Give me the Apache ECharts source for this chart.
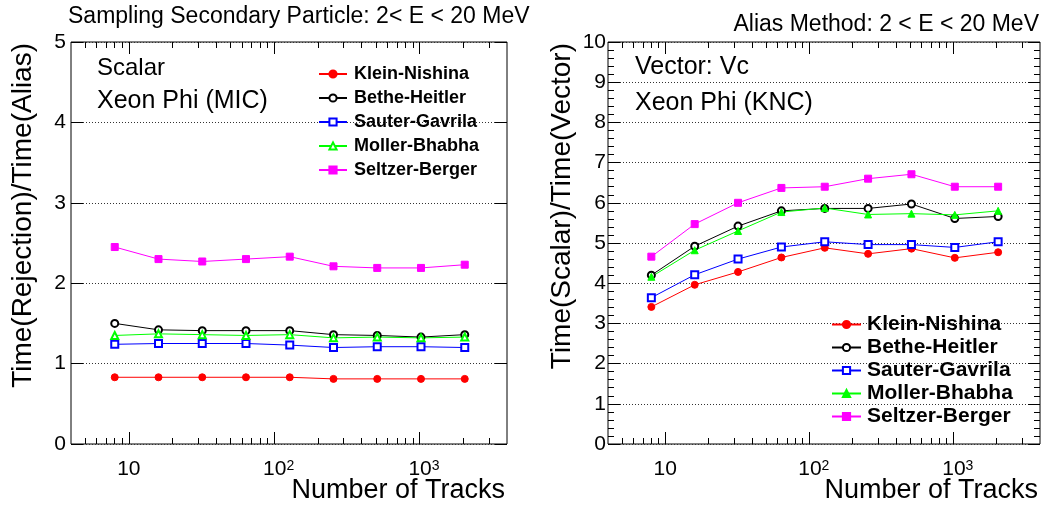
<!DOCTYPE html>
<html>
<head>
<meta charset="utf-8">
<script src="https://cdn.jsdelivr.net/npm/echarts@6/dist/echarts.min.js"></script>
<style>
  html, body { margin: 0; padding: 0; background: #fff; }
  #chart-container { width: 1047px; height: 509px; }
</style>
</head>
<body>
<div id="chart-container"></div>
<script>
var dom = document.getElementById('chart-container');
var myChart = echarts.init(dom, null, { renderer: 'canvas' });

// number of tracks (x)
var tracks = [8, 16, 32, 64, 128, 256, 512, 1024, 2048];
var seriesNames = ['Klein-Nishina', 'Bethe-Heitler', 'Sauter-Gavrila', 'Moller-Bhabha', 'Seltzer-Berger'];

// left: Time(Rejection)/Time(Alias), scalar, Xeon Phi (MIC)
var knLeft = [0.83, 0.83, 0.83, 0.83, 0.83, 0.81, 0.81, 0.81, 0.81];
var bhLeft = [1.50, 1.42, 1.41, 1.41, 1.41, 1.36, 1.35, 1.33, 1.36];
var sgLeft = [1.24, 1.25, 1.25, 1.25, 1.23, 1.20, 1.21, 1.21, 1.20];
var mbLeft = [1.35, 1.37, 1.36, 1.35, 1.36, 1.32, 1.33, 1.32, 1.33];
var sbLeft = [2.45, 2.30, 2.27, 2.30, 2.33, 2.21, 2.19, 2.19, 2.23];

// right: Time(Scalar)/Time(Vector), Vc, Xeon Phi (KNC)
var knRight = [3.41, 3.96, 4.28, 4.64, 4.88, 4.73, 4.86, 4.63, 4.77];
var bhRight = [4.20, 4.92, 5.42, 5.80, 5.86, 5.86, 5.97, 5.61, 5.66];
var sgRight = [3.64, 4.21, 4.60, 4.90, 5.03, 4.96, 4.96, 4.89, 5.03];
var mbRight = [4.16, 4.82, 5.30, 5.77, 5.87, 5.71, 5.73, 5.70, 5.80];
var sbRight = [4.66, 5.47, 6.00, 6.37, 6.40, 6.60, 6.71, 6.40, 6.40];

// log x axis ticks
var majorTicks = [10, 100, 1000];
var minorTicks = [5, 6, 7, 8, 9, 20, 30, 40, 50, 60, 70, 80, 90,
                  200, 300, 400, 500, 600, 700, 800, 900, 2000, 3000];
var xMin = 4, xMax = 4000;

var FONT = '"Liberation Sans", Arial, Helvetica, sans-serif';
var colors = ['#ff0000', '#000000', '#0000ff', '#00ff00', '#ff00ff'];
var symbolsLeft = ['circle', 'emptyCircle', 'emptyRect', 'emptyTriangle', 'rect'];
var symbolsRight = ['circle', 'emptyCircle', 'emptyRect', 'triangle', 'rect'];

// right panel series get their own names so its legend shows its own markers
var VC = ' (Vc)';
var namesLeft = seriesNames;
var namesRight = seriesNames.map(function (n) { return n + VC; });

function lg(v) { return Math.log10(v); }

function xLabel(v) {
  var e = Math.round(v);
  if (e === 1) return '{b|10}';
  return '{p|10}{s|' + e + '}';
}

function makeXAxes(gridIndex) {
  var common = {
    gridIndex: gridIndex, type: 'value', min: lg(xMin), max: lg(xMax),
    axisLine: { show: false }, splitLine: { show: false }
  };
  return [
    Object.assign({}, common, {
      position: 'bottom',
      name: 'Number of Tracks',
      nameLocation: 'end',
      nameGap: 0,
      nameMoveOverlap: false,
      nameTextStyle: { fontFamily: FONT, fontSize: 27, color: '#000', align: 'right',
                       verticalAlign: 'top', padding: [33, 2, 0, 0] },
      axisTick: { inside: true, length: 12, customValues: majorTicks.map(lg), lineStyle: { color: '#000' } },
      axisLabel: {
        customValues: majorTicks.map(lg), margin: 15, formatter: xLabel,
        color: '#000', fontFamily: FONT, fontSize: 21,
        rich: {
          b: { fontFamily: FONT, fontSize: 21, color: '#000' },
          p: { fontFamily: FONT, fontSize: 21, color: '#000', padding: [0, 0, 0, 9] },
          s: { fontFamily: FONT, fontSize: 14, color: '#000', verticalAlign: 'top', padding: [0, 0, 6, 0] }
        }
      }
    }),
    Object.assign({}, common, {
      position: 'bottom',
      axisTick: { inside: true, length: 6, customValues: minorTicks.map(lg), lineStyle: { color: '#000' } },
      axisLabel: { show: false }
    }),
    Object.assign({}, common, {
      position: 'top',
      axisTick: { inside: true, length: 12, customValues: majorTicks.map(lg), lineStyle: { color: '#000' } },
      axisLabel: { show: false }
    }),
    Object.assign({}, common, {
      position: 'top',
      axisTick: { inside: true, length: 6, customValues: minorTicks.map(lg), lineStyle: { color: '#000' } },
      axisLabel: { show: false }
    })
  ];
}

function makeYAxes(gridIndex, max, minor, title, namePad, labelMargin) {
  var tickStyle = { color: '#000' };
  return [
    {
      gridIndex: gridIndex, type: 'value', position: 'left', min: 0, max: max, interval: 1,
      name: title, nameLocation: 'end', nameRotate: 90, nameGap: 0, nameMoveOverlap: false,
      nameTextStyle: { fontFamily: FONT, fontSize: 28, color: '#000', align: 'right',
                       verticalAlign: 'bottom', padding: [0, 1, namePad, 0] },
      axisLine: { show: false },
      axisTick: { inside: true, length: 12, lineStyle: tickStyle },
      minorTick: { show: minor, splitNumber: 5, length: 6, lineStyle: tickStyle },
      axisLabel: { margin: labelMargin, color: '#000', fontFamily: FONT, fontSize: 21 },
      splitLine: { show: true, lineStyle: { color: '#333', type: [1, 2], width: 1 } }
    },
    {
      gridIndex: gridIndex, type: 'value', position: 'right', min: 0, max: max, interval: 1,
      axisLine: { show: false },
      axisTick: { inside: true, length: 12, lineStyle: tickStyle },
      minorTick: { show: minor, splitNumber: 5, length: 6, lineStyle: tickStyle },
      axisLabel: { show: false },
      splitLine: { show: false }
    }
  ];
}

function makeSeries(values, names, symbols, xAxisIndex, yAxisIndex) {
  return values.map(function (vals, i) {
    return {
      name: names[i],
      type: 'line',
      xAxisIndex: xAxisIndex,
      yAxisIndex: yAxisIndex,
      data: tracks.map(function (t, j) { return [lg(t), vals[j]]; }),
      symbol: symbols[i],
      symbolSize: 7,
      showAllSymbol: true,
      color: colors[i],
      lineStyle: { color: colors[i], width: 1 },
      itemStyle: { color: colors[i], borderColor: colors[i], borderWidth: 1 },
      emphasis: { disabled: true },
      animation: false
    };
  });
}

var option = {
  backgroundColor: '#fff',
  animation: false,
  title: [
    { text: 'Sampling Secondary Particle: 2< E < 20 MeV', left: 68, top: 5, padding: 0,
      textStyle: { fontFamily: FONT, fontSize: 23, fontWeight: 'normal', color: '#000' } },
    { text: 'Alias Method: 2 < E < 20 MeV', right: 8, top: 13, padding: 0,
      textStyle: { fontFamily: FONT, fontSize: 23, fontWeight: 'normal', color: '#000' } }
  ],
  grid: [
    { left: 71, right: 540, top: 42, bottom: 65, show: true, borderColor: '#000', borderWidth: 1,
      backgroundColor: 'transparent', containLabel: false, outerBoundsMode: 'none' },
    { left: 608, right: 7, top: 42, bottom: 65, show: true, borderColor: '#000', borderWidth: 1,
      backgroundColor: 'transparent', containLabel: false, outerBoundsMode: 'none' }
  ],
  legend: [
    { orient: 'vertical', left: 313, top: 60, itemWidth: 28, itemHeight: 9, itemGap: 6,
      data: namesLeft, selectedMode: false,
      textStyle: { fontFamily: FONT, fontSize: 18, fontWeight: 'bold', color: '#000', padding: [0, 0, 0, 2] } },
    { orient: 'vertical', left: 826, top: 309, itemWidth: 29, itemHeight: 9, itemGap: 2,
      data: namesRight, selectedMode: false,
      formatter: function (name) { return name.replace(VC, ''); },
      textStyle: { fontFamily: FONT, fontSize: 21, fontWeight: 'bold', color: '#000', padding: [0, 0, 0, 1] } }
  ],
  graphic: [
    { type: 'text', left: 97, top: 56, style: { text: 'Scalar', font: '24px ' + FONT, fill: '#000' } },
    { type: 'text', left: 97, top: 89, style: { text: 'Xeon Phi (MIC)', font: '25px ' + FONT, fill: '#000' } },
    { type: 'text', left: 635, top: 55, style: { text: 'Vector: Vc', font: '25px ' + FONT, fill: '#000' } },
    { type: 'text', left: 635, top: 91, style: { text: 'Xeon Phi (KNC)', font: '25px ' + FONT, fill: '#000' } }
  ],
  xAxis: makeXAxes(0).concat(makeXAxes(1)),
  yAxis: makeYAxes(0, 5, false, 'Time(Rejection)/Time(Alias)', 34, 5)
    .concat(makeYAxes(1, 10, true, 'Time(Scalar)/Time(Vector)', 32, 2)),
  series: makeSeries([knLeft, bhLeft, sgLeft, mbLeft, sbLeft], namesLeft, symbolsLeft, 0, 0)
    .concat(makeSeries([knRight, bhRight, sgRight, mbRight, sbRight], namesRight, symbolsRight, 4, 2))
};

myChart.setOption(option);
window.addEventListener('resize', myChart.resize);
</script>
</body>
</html>
